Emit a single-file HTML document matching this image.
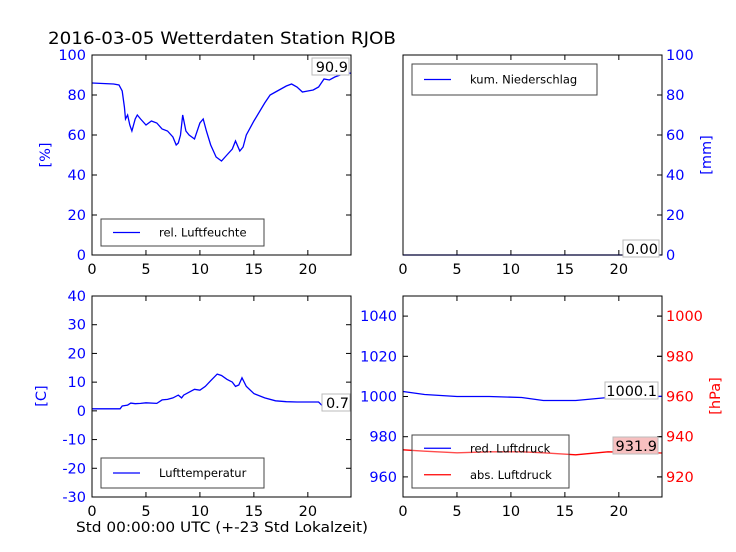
<!DOCTYPE html>
<html><head><meta charset="utf-8"><style>
body{margin:0;background:#fff;}
svg{display:block;font-family:"DejaVu Sans","Liberation Sans",sans-serif;}
</style></head><body>
<svg id="c" width="736" height="552" xmlns="http://www.w3.org/2000/svg">
<rect width="736" height="552" fill="#fff"/>
<text x="48" y="44" font-size="17" textLength="348" lengthAdjust="spacingAndGlyphs" fill="#000">2016-03-05 Wetterdaten Station RJOB</text>
<text x="76" y="532" font-size="14.5" textLength="292" lengthAdjust="spacingAndGlyphs" fill="#000">Std 00:00:00 UTC (+-23 Std Lokalzeit)</text>
</svg>
<script>
const humHours=[0,2,2.5,2.8,3,3.1,3.3,3.5,3.7,4,4.2,4.5,5,5.5,6,6.5,7,7.5,7.8,8,8.2,8.4,8.7,9,9.5,10,10.3,10.6,11,11.5,12,12.5,13,13.3,13.7,14,14.3,15,16,16.5,17,18,18.5,19,19.5,20,20.5,21,21.5,22,22.5,23,23.5,24];
const humValues=[86,85.5,85,82,74,68,70,65,62,68,70,68,65,67,66,63,62,59,55,56,60,70,62,60,58,66,68,62,55,49,47,50,53,57,52,54,60,67,76,80,81.5,84.5,85.5,84,81.5,82,82.5,84,88,87.5,89,90,91,90.9];
const rainHours=[0,24];
const rainValues=[0,0];
const tempHours=[0,2.6,2.8,3.3,3.6,4,4.5,5,6,6.5,7,7.5,8,8.3,8.5,9,9.5,10,10.5,11,11.6,12,12.5,13,13.3,13.6,13.9,14.3,15,16,17,18,19,21,21.5,22,23,24];
const tempValues=[0.7,0.7,1.7,2,2.7,2.5,2.6,2.8,2.6,3.8,4,4.5,5.5,4.5,5.5,6.5,7.5,7.2,8.5,10.5,12.8,12.3,11,10,8.5,9,11.5,8.5,6,4.5,3.5,3.2,3.1,3.1,1.2,0.8,0.5,0.7];
const presHours=[0,2,5,8,11,13,16,19,24];
const redPres=[1002.5,1001,1000,1000,999.5,998,998,999.5,1000.1];
const absPres=[933.5,932.8,932,932.5,932.5,932,931,932.5,931.9];
const xTicks=[0,5,10,15,20];
const humTicks=[0,20,40,60,80,100];
const tempTicks=[-30,-20,-10,0,10,20,30,40];
const redTicks=[960,980,1000,1020,1040];
const absTicks=[920,940,960,980,1000];

const svg=document.getElementById('c');
const NS='http://www.w3.org/2000/svg';
function mk(tag,attrs,parent){const e=document.createElementNS(NS,tag);for(const k in attrs)e.setAttribute(k,attrs[k]);(parent||svg).appendChild(e);return e;}
function txt(s,attrs){const e=mk('text',attrs);e.textContent=s;return e;}
const BLUE='#0000ff',RED='#ff0000';
const TF=14.5;
function panel(name,x0,x1,y0,y1){
  const g=mk('g',{});
  
  
  return {g,x0,x1,y0,y1,sx:h=>x0+(h/24)*(x1-x0)};
}
function frame(p){
  const r=mk('rect',{x:p.x0,y:p.y0,width:p.x1-p.x0,height:p.y1-p.y0,fill:'none',stroke:'#000','stroke-width':1},p.g);
  
  
}
function xAxis(p){
  xTicks.forEach(t=>{const x=p.sx(t);
    mk('line',{x1:x,x2:x,y1:p.y1,y2:p.y1-5,stroke:'#000'},p.g);
    mk('line',{x1:x,x2:x,y1:p.y0,y2:p.y0+5,stroke:'#000'},p.g);
    const l=txt(String(t),{x:x,y:p.y1+19,'font-size':TF,'text-anchor':'middle',fill:'#000'});
    
    
  });
}
function yAxis(p,ticks,lo,hi,side,color,drawTicks){
  const sy=v=>p.y1-(v-lo)/(hi-lo)*(p.y1-p.y0);
  ticks.forEach(t=>{const y=sy(t);
    if(drawTicks){mk('line',{x1:p.x0,x2:p.x0+5,y1:y,y2:y,stroke:'#000'},p.g);
    mk('line',{x1:p.x1,x2:p.x1-5,y1:y,y2:y,stroke:'#000'},p.g);}
    else if(side==='right'){mk('line',{x1:p.x1,x2:p.x1-5,y1:y,y2:y,stroke:'#000'},p.g);}
    const l=side==='left'?txt(String(t),{x:p.x0-6,y:y+5,'font-size':TF,'text-anchor':'end',fill:color}):txt(String(t),{x:p.x1+4,y:y+5,'font-size':TF,'text-anchor':'start',fill:color});
    
    
  });
  return sy;
}
function line(p,hours,vals,sy,color,name){
  const d=hours.map((h,i)=>(i?'L':'M')+p.sx(h).toFixed(1)+','+sy(vals[i]).toFixed(1)).join(' ');
  const e=mk('path',{d,fill:'none',stroke:color,'stroke-width':1.3},p.g);
  
  
}
function legend(x,y,w,h,items,name){
  const g=mk('g',{});
  
  
  mk('rect',{x,y,width:w,height:h,fill:'#fff','fill-opacity':0.3,stroke:'#444'},g);
  items.forEach((it,i)=>{const cy=y+h/(items.length)*(i+0.5);
    mk('line',{x1:x+12,x2:x+39,y1:cy,y2:cy,stroke:it[1],'stroke-width':1.3},g);
    const t=mk('text',{x:x+58,y:cy+4,'font-size':11.5,fill:'#000'},g);t.textContent=it[0];});
}
function valueBox(s,x,y,w,fill,name){
  const r=mk('rect',{x,y,width:w,height:17,fill:fill,stroke:'#bbb'});
  
  
  const t=txt(s,{x:x+w-1,y:y+14,'font-size':TF,'text-anchor':'end',fill:'#000'});
  
  
}
function ylabel(s,x,y,color,name){
  const t=txt(s,{x,y,'font-size':TF,'text-anchor':'middle',fill:color,transform:`rotate(-90 ${x} ${y})`});
  
  
}

// humidity
let p=panel('humidity-panel',92,351,55,255);
let sy=yAxis(p,humTicks,0,100,'left',BLUE,true);
xAxis(p);
line(p,humHours,humValues,sy,BLUE,'humidity-line');
frame(p);
legend(101,219,163,27,[['rel. Luftfeuchte',BLUE]],'humidity-legend');
valueBox(humValues[humValues.length-1].toFixed(1),312,58,37,'#fff','humidity-last-value');
ylabel('[%]',50,155,BLUE,'humidity-y-title');

// rain
p=panel('rain-panel',403,662,55,255);
sy=yAxis(p,humTicks,0,100,'right',BLUE,false);
xAxis(p);
line(p,rainHours,rainValues,sy,BLUE,'rain-line');
frame(p);
legend(412,64,185,31,[['kum. Niederschlag',BLUE]],'rain-legend');
valueBox(rainValues[rainValues.length-1].toFixed(2),623,240,36,'#fff','rain-last-value');
ylabel('[mm]',711,155,BLUE,'rain-y-title');

// temperature
p=panel('temperature-panel',92,351,296,497);
sy=yAxis(p,tempTicks,-30,40,'left',BLUE,true);
xAxis(p);
line(p,tempHours,tempValues,sy,BLUE,'temperature-line');
frame(p);
legend(101,458,163,30,[['Lufttemperatur',BLUE]],'temperature-legend');
valueBox(tempValues[tempValues.length-1].toFixed(1),322,394,28,'#fff','temperature-last-value');
ylabel('[C]',46,396,BLUE,'temperature-y-title');

// pressure
p=panel('pressure-panel',403,662,296,497);
const syL=yAxis(p,redTicks,950,1050,'left',BLUE,true);
const syR=yAxis(p,absTicks,910,1010,'right',RED,false);
xAxis(p);
line(p,presHours,redPres,syL,BLUE,'reduced-pressure-line');
line(p,presHours,absPres,syR,RED,'absolute-pressure-line');
frame(p);
legend(412,435,157,53,[['red. Luftdruck',BLUE],['abs. Luftdruck',RED]],'pressure-legend');
valueBox(redPres[redPres.length-1].toFixed(1),605,382,53,'#fff','reduced-pressure-last-value');
valueBox(absPres[absPres.length-1].toFixed(1),613,437,45,'#f7c0c0','absolute-pressure-last-value');
ylabel('[hPa]',720,396,RED,'pressure-y-title');
</script>
</body></html>
